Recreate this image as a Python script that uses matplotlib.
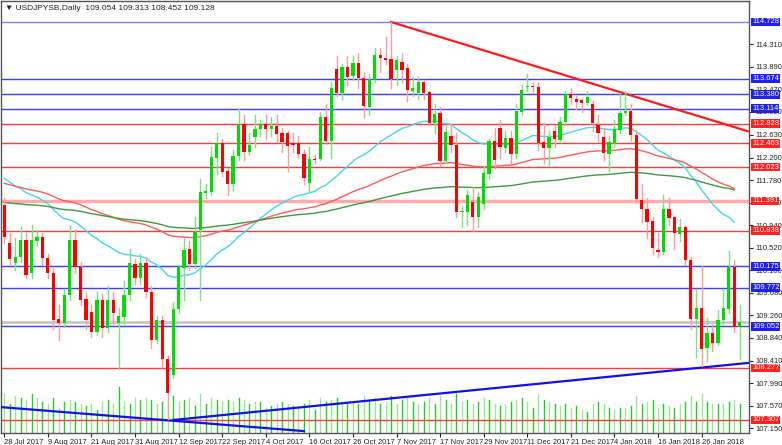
import matplotlib
matplotlib.use("Agg")
import matplotlib.pyplot as plt
import numpy as np

title = "\u25bc USDJPYSB,Daily  109.054 109.313 108.452 109.128"

opens = [111.32,110.61,110.23,110.35,110.66,110.05,110.64,110.72,110.33,110.05,
         109.19,109.12,109.64,110.66,110.16,109.56,109.32,108.95,109.54,109.02,
         109.54,109.12,109.23,109.64,110.22,109.95,110.23,109.69,108.80,109.17,
         108.44,108.15,109.38,110.14,110.50,110.22,110.85,111.54,111.56,112.19,
         112.47,111.95,111.71,112.23,112.83,112.30,112.58,112.73,112.83,112.73,
         112.79,112.66,112.66,112.47,112.47,112.27,111.73,112.17,112.17,112.96,
         112.51,113.85,113.40,113.89,113.72,113.96,113.68,113.14,113.65,114.11,
         114.06,114.04,113.83,113.98,113.87,113.44,113.40,113.61,113.42,112.84,
         113.03,112.14,112.60,112.43,111.19,111.19,111.37,111.09,111.33,111.89,
         112.51,112.75,112.38,112.57,112.27,113.05,113.52,113.53,113.52,112.49,
         112.38,112.70,112.53,112.86,113.39,113.29,113.27,113.22,113.20,112.81,
         112.58,112.27,112.47,112.71,113.03,113.07,112.62,111.41,111.24,111.02,
         110.48,110.44,111.24,111.09,110.78,110.91,110.29,109.19,109.40,108.65,
         108.93,108.74,109.17,109.38,110.16,109.05]
closes = [110.72,110.31,110.35,110.66,110.01,110.66,110.72,110.33,110.05,109.17,
          109.12,109.64,110.66,110.16,109.54,109.17,108.95,109.54,109.02,109.54,
          109.30,109.25,109.64,110.23,109.95,110.23,109.69,108.80,109.17,108.44,
          107.81,109.38,110.16,110.48,110.22,110.81,111.56,111.58,112.21,112.47,
          111.93,111.71,112.23,112.83,112.30,112.43,112.73,112.83,112.73,112.79,
          112.64,112.49,112.42,112.43,112.27,111.82,112.17,112.16,112.96,112.51,
          113.50,113.40,113.89,113.70,113.96,113.68,113.16,113.65,114.11,114.06,
          114.02,113.67,114.02,113.83,113.46,113.50,113.61,113.40,112.84,113.01,
          112.14,112.68,112.43,111.19,111.20,111.50,111.09,111.47,111.91,112.51,
          112.16,112.40,112.57,112.27,113.07,113.46,113.53,113.52,112.47,112.38,
          112.58,112.55,112.86,113.39,113.31,113.24,113.22,113.33,112.84,112.66,
          112.29,112.49,112.73,113.03,113.07,112.62,111.43,111.24,111.00,110.51,
          110.44,111.24,111.07,110.79,110.91,110.29,109.19,109.40,108.63,108.93,
          108.74,109.17,109.40,110.16,109.04,109.13]
highs = [111.45,110.80,110.70,110.90,110.80,110.95,110.85,110.80,110.40,110.15,
         109.45,109.75,110.95,110.85,110.25,109.70,109.45,109.70,109.65,109.80,
         109.70,109.40,109.90,110.50,110.30,110.40,110.35,109.80,109.25,109.25,
         108.50,109.50,110.20,110.70,110.65,111.10,111.80,111.70,112.40,112.65,
         112.55,112.00,112.35,113.10,113.00,112.65,113.00,112.90,113.00,112.95,
         113.00,112.75,112.70,112.65,112.60,112.35,112.40,112.25,113.05,113.20,
         113.60,114.10,113.95,114.10,114.10,114.15,113.80,113.75,114.25,114.25,
         114.45,114.73,114.10,114.15,113.95,113.70,113.70,113.65,113.45,113.20,
         113.15,112.80,112.80,112.65,111.30,111.60,111.65,111.55,112.05,112.55,
         112.75,112.90,112.70,112.70,113.20,113.55,113.75,113.60,113.60,112.85,
         112.70,112.80,112.95,113.45,113.50,113.35,113.30,113.45,113.25,113.00,
         112.75,112.60,112.90,113.40,113.45,113.20,112.70,111.70,111.45,111.10,
         110.80,111.50,111.45,111.10,111.05,110.95,110.35,109.75,110.17,109.20,
         109.10,109.35,109.75,110.45,110.29,109.45]
lows = [110.60,110.20,110.10,110.25,109.95,109.95,110.55,110.20,109.95,109.00,
        108.80,109.05,109.55,110.05,109.45,109.00,108.85,108.90,108.85,108.95,
        109.10,108.26,109.10,109.55,109.85,109.85,109.60,108.65,108.75,108.30,
        107.32,108.09,109.30,109.55,110.10,110.15,109.54,111.45,111.50,111.90,
        111.85,111.50,111.60,112.15,112.15,112.25,112.40,112.60,112.55,112.60,
        112.50,112.30,111.95,112.30,112.20,111.70,111.55,112.10,112.15,112.45,
        112.20,113.35,113.30,113.55,113.65,113.50,112.95,113.00,113.60,113.80,
        113.95,113.50,113.55,113.60,113.25,113.35,113.30,113.30,112.80,112.65,
        112.05,112.10,112.30,111.10,110.90,110.95,110.83,110.90,111.25,111.80,
        112.00,112.20,112.30,112.10,112.20,113.00,113.45,113.40,112.35,112.10,
        112.05,112.40,112.50,112.80,113.20,113.10,113.05,113.20,112.70,112.50,
        112.15,111.95,112.40,112.65,113.00,112.50,111.35,111.00,110.70,110.40,
        110.35,110.40,110.95,110.50,110.65,110.20,109.00,108.48,108.31,108.40,
        108.60,108.70,109.10,109.30,108.95,108.45]
volumes = [95,70,90,85,80,95,85,75,70,85,
           60,75,80,75,70,65,70,55,75,80,
           70,110,75,70,85,80,85,80,70,75,
           80,90,75,80,85,65,95,70,85,80,
           75,80,75,85,80,70,75,75,60,65,
           70,75,70,65,60,70,80,55,85,75,
           80,85,75,70,75,70,90,80,85,70,
           75,90,70,80,85,75,70,75,85,70,
           90,80,70,95,75,80,70,75,85,80,
           70,65,70,75,80,85,75,60,95,80,
           75,70,65,70,60,65,55,50,70,75,
           70,60,55,60,60,65,90,70,75,80,
           60,70,65,60,70,75,90,75,95,75,
           70,70,70,75,80,70]

ma_seeds = [111.87, 111.74, 111.37]     # cyan, red, green at chart start
ma_spans = [40, 100, 200]
ma_colors = ["#40d8e8", "#ff5a5a", "#3f9a3f"]

date_labels = ["28 Jul 2017","9 Aug 2017","21 Aug 2017","31 Aug 2017","12 Sep 2017",
               "22 Sep 2017","4 Oct 2017","16 Oct 2017","26 Oct 2017","7 Nov 2017",
               "17 Nov 2017","29 Nov 2017","11 Dec 2017","21 Dec 2017","4 Jan 2018",
               "16 Jan 2018","26 Jan 2018"]
price_ticks = [114.310,113.890,113.470,113.050,112.630,112.200,111.780,111.360,110.940,
               110.520,110.100,109.680,109.260,108.840,108.410,107.990,107.570,107.150]
blue_levels = [114.728,113.674,113.380,113.114,110.175,109.772,109.052]
red_levels = [112.828,112.463,112.023,111.391,110.838,108.277,107.307]
current_price = 109.128

red_trend = [(71, 114.728), (136.5, 112.69)]
blue_up = [(31, 107.307), (136.5, 108.37)]
blue_down = [(-1, 107.55), (55, 107.10)]

FONT = "Liberation Sans"
FS = 5.5
W, H = 782, 445
fig = plt.figure(figsize=(W/100, H/100), dpi=100)
ax = fig.add_axes([1/W, 1-433/H, 748/W, 432/H])
n = len(closes)
x = np.arange(n)
ax.set_xlim(-0.6, 136.7)
ylo, yhi = 115.138-0.018646*433, 115.138-0.018646*1
ax.set_ylim(ylo, yhi)

axv = ax.twinx()
axv.set_ylim(0, 120*433/50)
for i, v in enumerate(volumes):
    axv.plot([i, i], [0, v], color="#22cc22" if i % 2 else "#99e699", lw=1, zorder=1)
axv.set_yticks([])
for s in axv.spines.values():
    s.set_visible(False)
axv.set_zorder(0)
ax.set_zorder(1); ax.patch.set_visible(False)

for lv in blue_levels:
    ax.axhline(lv, color="#3c3cff" if lv != 114.728 else "#7f7fff", lw=1, zorder=2)
for lv in red_levels:
    if lv == 111.391:
        ax.axhline(lv, color="#ffaaaa", lw=2.5, zorder=2)
    else:
        ax.axhline(lv, color="#ff3a3a", lw=1, zorder=2)
ax.axhline(current_price, color="#c8c8c8", lw=2, zorder=2)

for seed, span, col in zip(ma_seeds, ma_spans, ma_colors):
    a = 2/(span+1)
    vals = []
    m = seed
    for c in closes:
        m = m + a*(c-m)
        vals.append(m)
    ax.plot(x[:-1], vals[:-1], color=col, lw=1, zorder=3)

for (p, col, lw) in [(red_trend, "#ff1a1a", 1.6), (blue_up, "#1010ee", 1.6), (blue_down, "#1010ee", 1.6)]:
    ax.plot([p[0][0], p[1][0]], [p[0][1], p[1][1]], color=col, lw=lw, zorder=4)

for i in range(n):
    up = closes[i] >= opens[i]
    wc = "#7fe07f" if up else "#ff9a9a"
    bc = "#00dd00" if up else "#ff0000"
    ax.plot([i, i], [lows[i], highs[i]], color=wc, lw=1, zorder=5)
    b0, b1 = min(opens[i], closes[i]), max(opens[i], closes[i])
    ax.add_patch(plt.Rectangle((i-0.3, b0), 0.6, max(b1-b0, 0.02), color=bc, lw=0, zorder=6))

for s in ax.spines.values():
    s.set_color("#555555"); s.set_linewidth(1)
ax.yaxis.tick_right()
ax.set_yticks(price_ticks)
ax.set_yticklabels([f"{t:.3f}" for t in price_ticks], fontsize=FS, family=FONT)
ax.tick_params(axis="y", length=3, pad=2, colors="#222222")
ax.set_xticks(np.arange(0, n, 8))
ax.set_xticklabels(date_labels, fontsize=FS, ha="left", family=FONT)
ax.tick_params(axis="x", length=3, pad=1, colors="#222222")

for lv in blue_levels:
    ax.text(1.004, lv, f"{lv:.3f}", transform=ax.get_yaxis_transform(), fontsize=FS,
            family=FONT, color="white", va="center", ha="left", zorder=10,
            bbox=dict(boxstyle="square,pad=0.12", fc="#2020ee", ec="none"))
for lv in red_levels:
    ax.text(1.004, lv, f"{lv:.3f}", transform=ax.get_yaxis_transform(), fontsize=FS,
            family=FONT, color="white", va="center", ha="left", zorder=10,
            bbox=dict(boxstyle="square,pad=0.12", fc="#ff2020", ec="none"))

fig.text(5/W, 1-8/H, title, fontsize=6, family=FONT, va="center", ha="left", color="#222222")
fig.savefig("out.png", dpi=100)
